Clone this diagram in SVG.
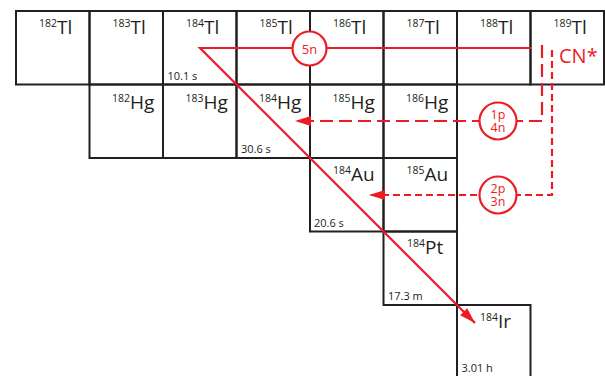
<svg xmlns="http://www.w3.org/2000/svg" width="605" height="376" viewBox="0 0 605 376">
<style>
.cell{fill:none;stroke:#231f20;stroke-width:2}
.lab{font-family:"Open Sans","Noto Sans",sans-serif;font-size:19px;fill:#231f20}
.sup{font-size:10.5px}
.hl{font-family:"Open Sans","Noto Sans",sans-serif;font-size:11px;fill:#231f20}
.red{fill:none;stroke:#ed1c24;stroke-width:2.2}
.d1{stroke-dasharray:13 6}
.d2{stroke-dasharray:7 4}
.bub{fill:#fff;stroke:#ed1c24;stroke-width:2.2}
.bt{font-family:"Open Sans","Noto Sans",sans-serif;font-size:13px;fill:#ed1c24;text-anchor:middle}
.bt2{font-family:"Open Sans","Noto Sans",sans-serif;font-size:12.5px;fill:#ed1c24;text-anchor:middle}
.cn{font-family:"Open Sans","Noto Sans",sans-serif;font-size:20px;fill:#ed1c24}
</style>
<defs>
<marker id="ah" markerUnits="userSpaceOnUse" markerWidth="16" markerHeight="10" refX="16" refY="5" orient="auto" overflow="visible">
<path d="M0,0 L16,5 L0,10 z" fill="#ed1c24"/>
</marker>
</defs>
<rect width="605" height="376" fill="#fff"/>
<g id="Tl182"><rect class="cell" x="16" y="11" width="73.5" height="73.5"/><text class="lab" x="39" y="34"><tspan class="sup" dy="-7">182</tspan><tspan dy="7">Tl</tspan></text></g>
<g id="Tl183"><rect class="cell" x="89.5" y="11" width="73.5" height="73.5"/><text class="lab" x="112.5" y="34"><tspan class="sup" dy="-7">183</tspan><tspan dy="7">Tl</tspan></text></g>
<g id="Tl184"><rect class="cell" x="163" y="11" width="73.5" height="73.5"/><text class="lab" x="186" y="34"><tspan class="sup" dy="-7">184</tspan><tspan dy="7">Tl</tspan></text><text class="hl" x="167.5" y="79.5">10.1 s</text></g>
<g id="Tl185"><rect class="cell" x="236.5" y="11" width="73.5" height="73.5"/><text class="lab" x="259.5" y="34"><tspan class="sup" dy="-7">185</tspan><tspan dy="7">Tl</tspan></text></g>
<g id="Tl186"><rect class="cell" x="310" y="11" width="73.5" height="73.5"/><text class="lab" x="333" y="34"><tspan class="sup" dy="-7">186</tspan><tspan dy="7">Tl</tspan></text></g>
<g id="Tl187"><rect class="cell" x="383.5" y="11" width="73.5" height="73.5"/><text class="lab" x="406.5" y="34"><tspan class="sup" dy="-7">187</tspan><tspan dy="7">Tl</tspan></text></g>
<g id="Tl188"><rect class="cell" x="457" y="11" width="73.5" height="73.5"/><text class="lab" x="480" y="34"><tspan class="sup" dy="-7">188</tspan><tspan dy="7">Tl</tspan></text></g>
<g id="Tl189"><rect class="cell" x="530.5" y="11" width="73.5" height="73.5"/><text class="lab" x="553.5" y="34"><tspan class="sup" dy="-7">189</tspan><tspan dy="7">Tl</tspan></text></g>
<g id="Hg182"><rect class="cell" x="89.5" y="84.5" width="73.5" height="73.5"/><text class="lab" x="112" y="108.5"><tspan class="sup" dy="-7">182</tspan><tspan dy="7">Hg</tspan></text></g>
<g id="Hg183"><rect class="cell" x="163" y="84.5" width="73.5" height="73.5"/><text class="lab" x="185.5" y="108.5"><tspan class="sup" dy="-7">183</tspan><tspan dy="7">Hg</tspan></text></g>
<g id="Hg184"><rect class="cell" x="236.5" y="84.5" width="73.5" height="73.5"/><text class="lab" x="259" y="108.5"><tspan class="sup" dy="-7">184</tspan><tspan dy="7">Hg</tspan></text><text class="hl" x="241" y="153">30.6 s</text></g>
<g id="Hg185"><rect class="cell" x="310" y="84.5" width="73.5" height="73.5"/><text class="lab" x="332.5" y="108.5"><tspan class="sup" dy="-7">185</tspan><tspan dy="7">Hg</tspan></text></g>
<g id="Hg186"><rect class="cell" x="383.5" y="84.5" width="73.5" height="73.5"/><text class="lab" x="406" y="108.5"><tspan class="sup" dy="-7">186</tspan><tspan dy="7">Hg</tspan></text></g>
<g id="Au184"><rect class="cell" x="310" y="158" width="73.5" height="73.5"/><text class="lab" x="333" y="181"><tspan class="sup" dy="-7">184</tspan><tspan dy="7">Au</tspan></text><text class="hl" x="314" y="227">20.6 s</text></g>
<g id="Au185"><rect class="cell" x="383.5" y="158" width="73.5" height="73.5"/><text class="lab" x="406.5" y="181"><tspan class="sup" dy="-7">185</tspan><tspan dy="7">Au</tspan></text></g>
<g id="Pt184"><rect class="cell" x="383.5" y="231.5" width="73.5" height="73.5"/><text class="lab" x="407" y="254"><tspan class="sup" dy="-7">184</tspan><tspan dy="7">Pt</tspan></text><text class="hl" x="388" y="300">17.3 m</text></g>
<g id="Ir184"><rect class="cell" x="457" y="305" width="73.5" height="90"/><text class="lab" x="480" y="328"><tspan class="sup" dy="-7">184</tspan><tspan dy="7">Ir</tspan></text><text class="hl" x="461.5" y="372">3.01 h</text></g>
<g id="CN"><text class="cn" x="559" y="63">CN*</text></g>
<g id="connectors">
<path class="red" d="M531,48 H200 L475,323" marker-end="url(#ah)"/>
<path class="red d1" d="M542,45 V121 H295" marker-end="url(#ah)"/>
<path class="red d2" d="M552,50 V195 H369" marker-end="url(#ah)"/>
<g id="lab5n"><circle class="bub" cx="309.5" cy="48.5" r="17"/><text class="bt" x="309.5" y="53.5" font-size="13.5">5n</text></g>
<g id="lab1p4n"><circle class="bub" cx="498" cy="121" r="18.5"/><text class="bt2" x="498" y="119">1p<tspan x="498" dy="13">4n</tspan></text></g>
<g id="lab2p3n"><circle class="bub" cx="498" cy="195" r="18.5"/><text class="bt2" x="498" y="193">2p<tspan x="498" dy="13">3n</tspan></text></g>
</g>
</svg>
